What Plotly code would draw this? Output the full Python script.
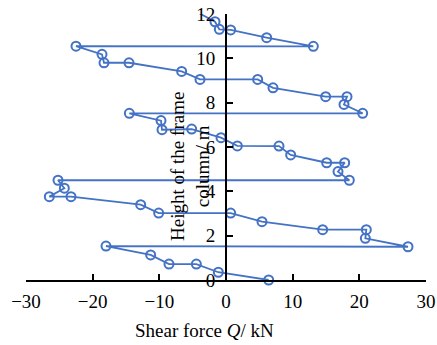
import plotly.graph_objects as go

# Shear force (kN) and height (m), traced from top of column to bottom
shear_force = [-4.0, -1.65, -1.0, 0.7, 6.1, 13.1,
               -22.5, -18.6, -18.3, -14.55, -6.65, -3.9, 4.75, 7.05, 14.95, 18.15, 17.7, 20.5,
               -14.5, -9.75, -9.6, -5.15, -0.75, 1.7, 7.95, 9.7, 15.1, 17.8, 16.8, 18.5,
               -25.2, -24.25, -26.5, -23.25, -12.8, -10.1, 0.7, 5.4, 14.5, 21.05, 20.9, 27.3,
               -18.0, -11.3, -8.55, -4.45, -1.15, 6.4]
height = [12.03, 11.65, 11.31, 11.28, 10.93, 10.54,
          10.55, 10.18, 9.80, 9.80, 9.41, 9.05, 9.05, 8.67, 8.27, 8.27, 7.92, 7.52,
          7.52, 7.19, 6.78, 6.81, 6.42, 6.05, 6.04, 5.64, 5.29, 5.29, 4.89, 4.50,
          4.50, 4.14, 3.76, 3.76, 3.40, 3.02, 3.02, 2.63, 2.27, 2.27, 1.88, 1.50,
          1.53, 1.13, 0.72, 0.72, 0.35, 0.0]

x_ticks = [-30, -20, -10, 0, 10, 20, 30]
x_labels = ["\u221230", "\u221220", "\u221210", "0", "10", "20", "30"]
y_ticks = [0, 2, 4, 6, 8, 10, 12]

color = "#4472C4"
font = dict(family="Liberation Serif, Times New Roman, serif", size=19, color="black")

fig = go.Figure(go.Scatter(
    x=shear_force, y=height, mode="lines+markers",
    line=dict(color=color, width=1.8),
    marker=dict(symbol="circle-open", size=9, color=color, line=dict(width=2, color=color)),
    cliponaxis=False, showlegend=False,
))

fig.update_layout(
    width=437, height=345,
    margin=dict(l=26, r=11, t=14, b=65),
    paper_bgcolor="white", plot_bgcolor="white",
    font=font,
    xaxis=dict(range=[-30, 30], tickvals=x_ticks, ticktext=x_labels, automargin=False,
               showline=True, linecolor="black", linewidth=2, ticks="inside", ticklen=6, tickwidth=2,
               tickcolor="black", showgrid=False, zeroline=False, tickfont=font, ticklabelstandoff=3),
    yaxis=dict(range=[0, 12], tickvals=y_ticks, anchor="free", position=0.5, automargin=False,
               showline=True, linecolor="black", linewidth=2, ticks="inside", ticklen=6, tickwidth=2,
               tickcolor="black", showgrid=False, zeroline=False, tickfont=font, ticklabelstandoff=6),
    annotations=[
        dict(text="Shear force <i>Q</i>/ kN", x=0.445, y=-0.188, xref="paper", yref="paper",
             showarrow=False, font=font, xanchor="center", yanchor="middle"),
        dict(text="Height of the frame<br>column/ m", x=-5.4, y=5.1, xref="x", yref="y",
             showarrow=False, font=font, textangle=-90, xanchor="center", yanchor="middle"),
    ],
)

fig.write_html("out.html")
